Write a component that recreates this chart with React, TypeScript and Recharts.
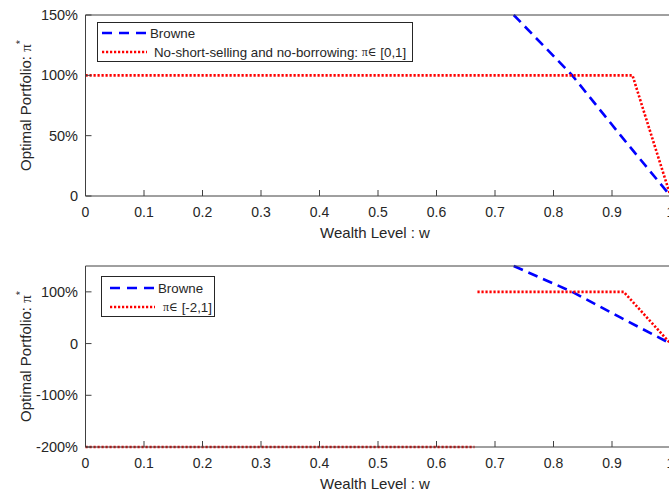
import React from 'react';
import { LineChart, Line, XAxis, YAxis } from 'recharts';

// wealth level ticks shared by both panels
const wTicks = [0, 0.1, 0.2, 0.3, 0.4, 0.5, 0.6, 0.7, 0.8, 0.9, 1];

// Browne (unconstrained) optimal portfolio
const browneW = [0.732, 0.832, 0.915, 1.0];
const browneP = [1.5, 1.0, 0.5, 0];

// top panel: no short selling, no borrowing
const noShortW = [0, 0.935, 1.0];
const noShortP = [1, 1, 0];

// bottom panel: pi in [-2, 1]
const boundedW = [0, 0.665, 0.667, 0.67, 0.92, 1.0];
const boundedP: (number | null)[] = [-2, -2, null, 1, 1, 0];

const topTicks = [0, 0.5, 1, 1.5];
const bottomTicks = [-2, -1, 0, 1];

const toRows = (w: number[], p: (number | null)[]) => w.map((x, i) => ({ w: x, p: p[i] }));

const FONT = '"Liberation Sans", Arial, Helvetica, sans-serif';
const INK = '#262626';
const AXIS = '#404040';

const pct = (v: number) => (v === 0 ? '0' : `${Math.round(v * 100)}%`);

const XTick = (props: any) => (
  <text x={props.x} y={props.y} textAnchor="middle" dominantBaseline="central" fontSize={14} fontFamily={FONT} fill={INK}>
    {props.payload.value}
  </text>
);

const YTick = (props: any) => (
  <text x={props.x} y={props.y} textAnchor="end" dominantBaseline="central" fontSize={14.5} fontFamily={FONT} fill={INK}>
    {pct(props.payload.value)}
  </text>
);

const Blank = () => <g />;

const YLabel = (props: any) => {
  const vb = props.viewBox || {};
  const cy = vb.y + vb.height / 2;
  return (
    <text x={31} y={cy} transform={`rotate(-90 31 ${cy})`} textAnchor="middle" fontSize={15} fontFamily={FONT} fill={INK}>
      Optimal Portfolio: <tspan fontFamily='"Liberation Serif", serif' fontStyle="normal">π</tspan>
      <tspan dy={-7} fontSize={11}>*</tspan>
    </text>
  );
};

const XLabel = (props: any) => {
  const vb = props.viewBox || {};
  return (
    <text x={vb.x + vb.width / 2 - 3} y={vb.y + 36} textAnchor="middle" dominantBaseline="central" fontSize={15} fontFamily={FONT} fill={INK}>
      Wealth Level : w
    </text>
  );
};

interface PanelProps {
  yTicks: number[];
  yDomain: [number, number];
  red: { w: number; p: number | null }[];
}

const Panel: React.FC<PanelProps> = ({ yTicks, yDomain, red }) => (
  <LineChart width={700} height={250} margin={{ top: 0, right: 0, left: 0, bottom: 0 }}>
    <XAxis
      xAxisId="b"
      dataKey="w"
      type="number"
      domain={[0, 1]}
      ticks={wTicks}
      orientation="bottom"
      height={54}
      stroke={AXIS}
      tickSize={-6}
      tickMargin={22}
      tick={<XTick />}
      label={<XLabel />}
    />
    <XAxis xAxisId="t" dataKey="w" type="number" domain={[0, 1]} ticks={wTicks} orientation="top" height={15} stroke={AXIS} tickSize={-6} tick={Blank} />
    <YAxis
      yAxisId="l"
      type="number"
      domain={yDomain}
      ticks={yTicks}
      width={85.5}
      stroke={AXIS}
      tickSize={-6}
      tickMargin={13.5}
      tick={<YTick />}
      label={<YLabel />}
    />
    <YAxis yAxisId="r" orientation="right" type="number" domain={yDomain} ticks={yTicks} width={29.5} stroke={AXIS} tickSize={-6} tick={Blank} />
    <Line
      xAxisId="b"
      yAxisId="l"
      data={toRows(browneW, browneP)}
      dataKey="p"
      stroke="#0000ff"
      strokeWidth={2.6}
      strokeDasharray="10 6"
      dot={false}
      isAnimationActive={false}
    />
    <Line
      xAxisId="b"
      yAxisId="l"
      data={red}
      dataKey="p"
      stroke="#ff0000"
      strokeWidth={2.6}
      strokeDasharray="2.2 1.8"
      dot={false}
      connectNulls={false}
      isAnimationActive={false}
    />
  </LineChart>
);

const Legend: React.FC<{ x: number; y: number; w: number; h: number; rows: [number, number]; sx: [number, number]; tx: [number, number]; second: React.ReactNode }> = ({
  x,
  y,
  w,
  h,
  rows,
  sx,
  tx,
  second,
}) => (
  <svg width={669} height={491} style={{ position: 'absolute', left: 0, top: 0, pointerEvents: 'none' }}>
    <rect x={x + 0.5} y={y + 0.5} width={w} height={h} fill="#fff" stroke={INK} strokeWidth={1} />
    <line x1={sx[0]} x2={sx[1]} y1={rows[0]} y2={rows[0]} stroke="#0000ff" strokeWidth={2.6} strokeDasharray="10 7" />
    <text x={tx[0]} y={rows[0]} dominantBaseline="central" fontSize={13.3} fontFamily={FONT} fill={INK}>
      Browne
    </text>
    <line x1={sx[0]} x2={sx[1]} y1={rows[1]} y2={rows[1]} stroke="#ff0000" strokeWidth={2.6} strokeDasharray="2.2 1.8" />
    <text x={tx[1]} y={rows[1]} dominantBaseline="central" fontSize={13.3} fontFamily={FONT} fill={INK}>
      {second}
    </text>
  </svg>
);

const Pi = () => (
  <tspan fontFamily='"Liberation Serif", "DejaVu Serif", serif' fontSize={12}>
    π∈
  </tspan>
);

export default function App() {
  return (
    <div style={{ position: 'fixed', left: 0, top: 0, width: 669, height: 491, overflow: 'hidden', background: '#fff' }}>
      <div style={{ position: 'absolute', left: 0, top: 0 }}>
        <Panel yTicks={topTicks} yDomain={[0, 1.5]} red={toRows(noShortW, noShortP)} />
      </div>
      <div style={{ position: 'absolute', left: 0, top: 251 }}>
        <Panel yTicks={bottomTicks} yDomain={[-2, 1.5]} red={toRows(boundedW, boundedP)} />
      </div>
      <Legend
        x={97}
        y={22}
        w={315}
        h={39}
        rows={[33, 52]}
        sx={[102, 147]}
        tx={[150, 154]}
        second={
          <>
            No-short-selling and no-borrowing: <Pi /> [0,1]
          </>
        }
      />
      <div style={{ position: 'absolute', left: 0, top: 0 }}>
        <Legend
          x={101}
          y={276}
          w={113}
          h={40}
          rows={[288, 307]}
          sx={[110, 155]}
          tx={[158, 163]}
          second={
            <>
              <Pi /> [-2,1]
            </>
          }
        />
      </div>
    </div>
  );
}
